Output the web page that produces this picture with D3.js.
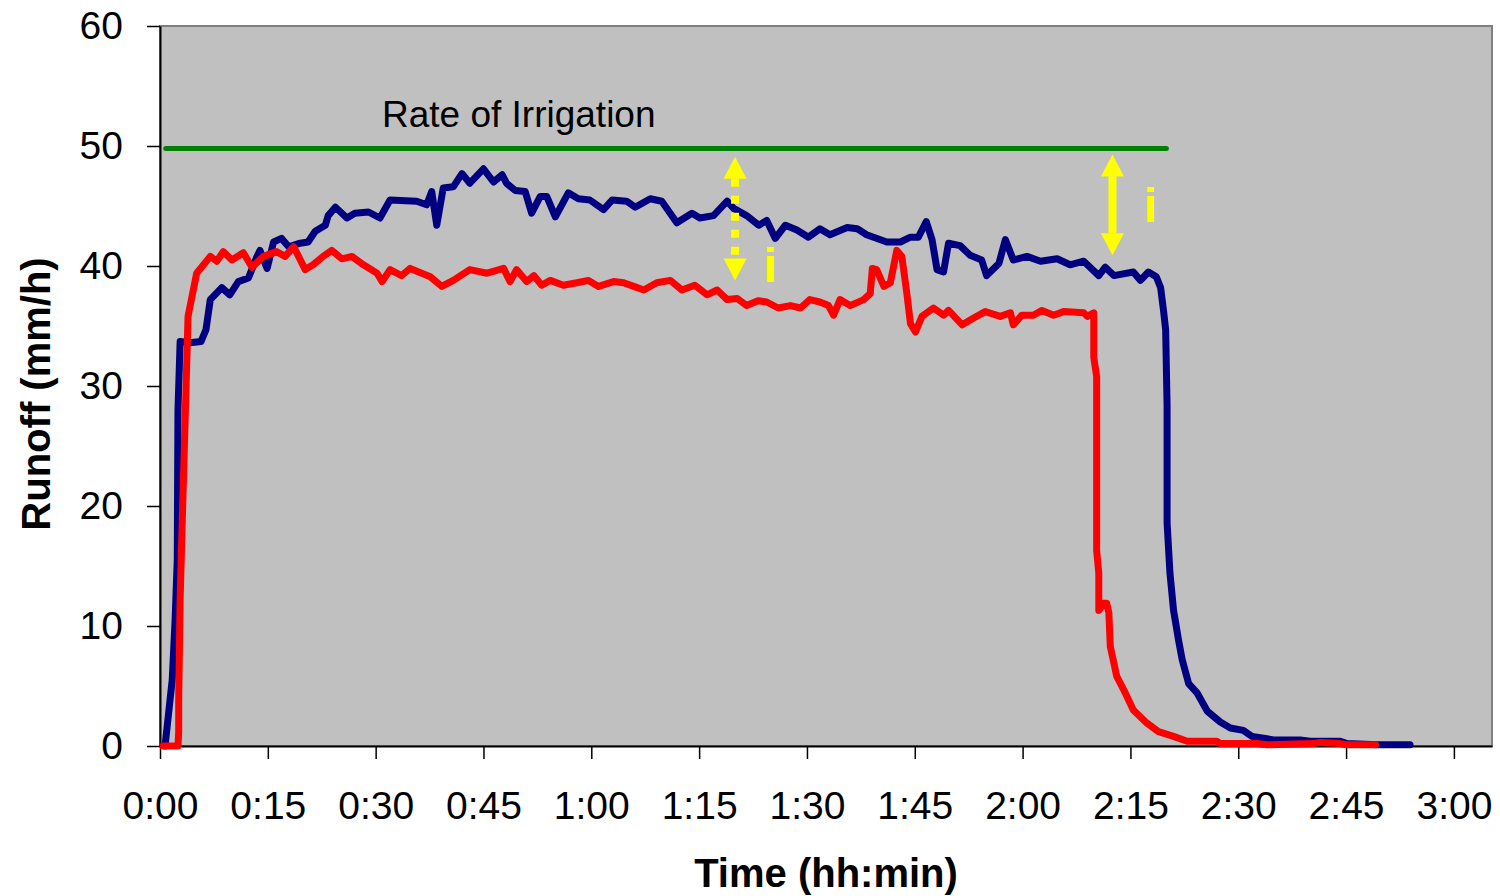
<!DOCTYPE html>
<html>
<head>
<meta charset="utf-8">
<title>Runoff</title>
<script src="https://cdn.jsdelivr.net/npm/d3@7"></script>
<style>
  body { margin: 0; background: #fff; }
  svg { display: block; font-family: "Liberation Sans", Arial, sans-serif; }
</style>
</head>
<body>
<div id="chart"></div>
<script>
// time in minutes, runoff in mm/h
var blueTime = [0.7, 1.1, 1.7, 2.1, 2.4, 2.5, 2.8, 4.2, 5.7, 6.4, 7.0, 8.6, 9.7, 10.9, 12.3, 13.5, 13.9, 14.9, 15.8, 16.9,
  17.9, 19.5, 20.6, 21.6, 23.0, 23.4, 24.4, 25.3, 26.0, 27.1, 29.0, 30.6, 32.0, 35.7, 37.1, 37.8, 38.5, 39.4, 40.8, 42.0,
  43.1, 45.0, 46.4, 47.6, 48.2, 49.4, 50.8, 51.7, 52.9, 53.8, 55.0, 56.8, 58.2, 59.8, 61.7, 62.9, 64.9, 66.1, 68.2, 69.8,
  71.9, 74.0, 75.1, 77.0, 78.9, 79.8, 81.6, 83.3, 84.4, 85.6, 87.0, 88.6, 90.2, 91.8, 93.2, 95.6, 97.0, 98.3, 101.1, 103.0,
  104.4, 105.5, 106.6, 107.4, 108.1, 109.0, 109.7, 111.3, 112.7, 114.3, 115.0, 116.7, 117.6, 118.7, 120.6, 122.5, 124.8, 126.6, 128.5, 130.6,
  131.5, 132.7, 135.4, 136.4, 137.5, 138.6, 139.2, 139.6, 139.9, 140.1, 140.1, 140.5, 141.0, 141.7, 142.2, 143.1, 144.3, 145.7, 147.5, 148.9,
  150.7, 151.9, 154.0, 154.9, 158.6, 160.0, 164.2, 165.1, 169.3, 173.9];
var blueRunoff = [0, 2.2, 5.5, 10.5, 15.5, 28.0, 33.7, 33.6, 33.7, 34.7, 37.2, 38.2, 37.6, 38.7, 39.0, 40.8, 41.3, 39.8, 42.0, 42.3,
  41.6, 41.9, 42.0, 42.9, 43.4, 44.2, 44.9, 44.4, 44.0, 44.4, 44.5, 44.0, 45.5, 45.4, 45.1, 46.2, 43.4, 46.5, 46.6, 47.7,
  46.9, 48.1, 47.0, 47.6, 46.9, 46.3, 46.2, 44.4, 45.8, 45.8, 44.1, 46.1, 45.6, 45.5, 44.7, 45.5, 45.4, 44.9, 45.6, 45.4,
  43.6, 44.4, 44.0, 44.2, 45.4, 44.8, 44.2, 43.4, 43.8, 42.3, 43.4, 43.0, 42.4, 43.1, 42.6, 43.2, 43.1, 42.6, 42.0, 42.0,
  42.4, 42.4, 43.7, 42.2, 39.7, 39.5, 41.9, 41.7, 40.9, 40.5, 39.2, 40.2, 42.2, 40.5, 40.8, 40.4, 40.6, 40.1, 40.4, 39.2,
  39.9, 39.2, 39.5, 38.8, 39.5, 39.1, 38.2, 36.3, 34.7, 28.3, 18.6, 14.4, 11.3, 8.8, 7.2, 5.2, 4.4, 2.9, 2.0, 1.5,
  1.3, 0.8, 0.6, 0.5, 0.5, 0.4, 0.4, 0.2, 0.1, 0.1];

var redTime = [0.4, 2.5, 2.6, 2.6, 2.8, 3.1, 3.5, 3.9, 5.1, 7.0, 7.9, 8.8, 10.0, 11.6, 12.8, 14.4, 16.2, 17.4, 18.6, 20.2,
  21.3, 22.7, 23.9, 25.3, 26.7, 28.3, 30.2, 30.9, 32.0, 33.6, 34.8, 37.6, 39.2, 40.8, 43.1, 45.5, 47.8, 48.7, 49.6, 51.0,
  52.0, 53.1, 54.3, 56.1, 58.0, 59.6, 61.0, 63.1, 64.5, 65.9, 67.3, 69.1, 71.0, 72.6, 74.4, 76.1, 77.5, 78.9, 80.3, 81.6,
  83.2, 84.4, 86.0, 87.7, 89.1, 90.4, 91.8, 93.0, 93.7, 94.6, 96.0, 97.9, 98.8, 99.1, 99.7, 100.7, 101.6, 102.5, 103.2, 103.9,
  104.4, 105.1, 106.0, 107.6, 109.0, 109.7, 111.6, 113.0, 114.8, 116.9, 118.3, 118.7, 119.9, 121.5, 122.7, 124.3, 125.7, 128.5, 129.0, 129.9,
  129.9, 130.3, 130.3, 130.6, 130.6, 131.3, 131.7, 132.0, 132.2, 133.1, 134.3, 135.4, 137.3, 138.9, 141.0, 142.9, 147.0, 147.5, 152.6, 154.0,
  160.5, 161.4, 164.2, 165.1, 169.1];
var redRunoff = [0, 0, 1.2, 3.8, 12.2, 18.8, 27.2, 35.8, 39.4, 40.8, 40.4, 41.2, 40.5, 41.1, 39.9, 40.8, 41.2, 40.8, 41.6, 39.7,
  40.1, 40.8, 41.3, 40.6, 40.8, 40.1, 39.4, 38.7, 39.7, 39.2, 39.8, 39.1, 38.3, 38.8, 39.7, 39.4, 39.8, 38.7, 39.7, 38.7,
  39.2, 38.4, 38.8, 38.4, 38.6, 38.8, 38.3, 38.7, 38.6, 38.3, 38.0, 38.6, 38.8, 38.0, 38.4, 37.6, 38.0, 37.2, 37.3, 36.7,
  37.1, 37.0, 36.5, 36.7, 36.5, 37.2, 37.0, 36.7, 35.9, 37.2, 36.7, 37.2, 37.7, 39.8, 39.7, 38.3, 38.6, 41.3, 40.8, 37.7,
  35.2, 34.5, 35.8, 36.5, 35.9, 36.3, 35.1, 35.6, 36.2, 35.8, 36.1, 35.1, 35.9, 35.9, 36.3, 35.9, 36.2, 36.1, 35.8, 36.1,
  32.4, 30.8, 16.3, 14.4, 11.3, 11.9, 11.9, 11.1, 8.3, 5.8, 4.4, 3.0, 1.9, 1.2, 0.8, 0.4, 0.4, 0.2, 0.2, 0.1,
  0.2, 0.3, 0.2, 0.1, 0.1];

// rate of irrigation line
var irrigationTime = [0.8, 140.0];
var irrigationRate = [49.8, 49.8];

// yellow arrows: [time, top value, bottom value]
var arrowDashed = [80.0, 49.1, 38.8];
var arrowSolid = [132.5, 49.3, 40.9];

var xTicks = [0, 15, 30, 45, 60, 75, 90, 105, 120, 135, 150, 165, 180];
var yTicks = [0, 10, 20, 30, 40, 50, 60];

var width = 1500, height = 896;
var plotL = 160, plotR = 1492, plotT = 26, plotB = 746;

var svg = d3.select('#chart').append('svg')
  .attr('width', width)
  .attr('height', height);

var x = d3.scaleLinear().domain([0, 185.3]).range([plotL, plotR]);
var y = d3.scaleLinear().domain([0, 60]).range([plotB, plotT]);

// plot area
svg.append('rect')
  .attr('x', plotL).attr('y', plotT)
  .attr('width', plotR - plotL).attr('height', plotB - plotT)
  .attr('fill', '#c0c0c0')
  .attr('stroke', '#808080')
  .attr('stroke-width', 2);

function fmt(m) {
  var h = Math.floor(m / 60), mm = m % 60;
  return h + ':' + (mm < 10 ? '0' : '') + mm;
}

var xAxis = svg.append('g')
  .attr('transform', 'translate(0,' + plotB + ')')
  .call(d3.axisBottom(x).tickValues(xTicks).tickFormat(fmt).tickSize(13).tickSizeOuter(0).tickPadding(32));

var yAxis = svg.append('g')
  .attr('transform', 'translate(' + plotL + ',0)')
  .call(d3.axisLeft(y).tickValues(yTicks).tickSize(13).tickSizeOuter(0).tickPadding(24));

[xAxis, yAxis].forEach(function(g) {
  g.select('.domain').attr('stroke', '#000').attr('stroke-width', 2);
  g.selectAll('.tick line').attr('stroke', '#000').attr('stroke-width', 1.5);
  g.selectAll('.tick text')
    .attr('fill', '#000')
    .style('font-size', '39px')
    .style('font-family', '"Liberation Sans", Arial, sans-serif');
});

var line = d3.line()
  .x(function(d) { return x(d[0]); })
  .y(function(d) { return y(d[1]); });

function pairs(t, v) { return t.map(function(d, i) { return [d, v[i]]; }); }

svg.append('path')
  .datum(pairs(irrigationTime, irrigationRate))
  .attr('d', line)
  .attr('fill', 'none')
  .attr('stroke', '#008000')
  .attr('stroke-width', 5)
  .attr('stroke-linecap', 'round');

svg.append('path')
  .datum(pairs(blueTime, blueRunoff))
  .attr('d', line)
  .attr('fill', 'none')
  .attr('stroke', '#000080')
  .attr('stroke-width', 7)
  .attr('stroke-linejoin', 'round')
  .attr('stroke-linecap', 'round');

svg.append('path')
  .datum(pairs(redTime, redRunoff))
  .attr('d', line)
  .attr('fill', 'none')
  .attr('stroke', '#ff0000')
  .attr('stroke-width', 7)
  .attr('stroke-linejoin', 'round')
  .attr('stroke-linecap', 'round');

// double arrows
function arrow(a, dashed) {
  var cx = x(a[0]), y1 = y(a[1]), y2 = y(a[2]);
  var hh = 22, hw = 11.5;
  var g = svg.append('g').attr('fill', '#ffff00');
  g.append('path').attr('d', 'M' + cx + ',' + y1 + 'L' + (cx + hw) + ',' + (y1 + hh) + 'L' + (cx - hw) + ',' + (y1 + hh) + 'Z');
  g.append('path').attr('d', 'M' + cx + ',' + y2 + 'L' + (cx + hw) + ',' + (y2 - hh) + 'L' + (cx - hw) + ',' + (y2 - hh) + 'Z');
  g.append('line')
    .attr('x1', cx).attr('x2', cx)
    .attr('y1', y1 + hh).attr('y2', y2 - hh)
    .attr('stroke', '#ffff00')
    .attr('stroke-width', 8)
    .attr('stroke-dasharray', dashed ? '8,9' : null);
}
arrow(arrowDashed, true);
arrow(arrowSolid, false);

svg.append('text')
  .attr('x', x(arrowDashed[0]) + 35).attr('y', y(arrowDashed[2]) + 2)
  .attr('text-anchor', 'middle')
  .attr('fill', '#ffff00')
  .style('font-size', '48px').style('font-weight', 'bold')
  .text('i');

svg.append('text')
  .attr('x', x(arrowSolid[0]) + 38).attr('y', y(arrowSolid[1]) + 68)
  .attr('text-anchor', 'middle')
  .attr('fill', '#ffff00')
  .style('font-size', '48px').style('font-weight', 'bold')
  .text('i');

svg.append('text')
  .attr('x', 382).attr('y', 127)
  .style('font-size', '37px')
  .attr('fill', '#000')
  .text('Rate of Irrigation');

svg.append('text')
  .attr('transform', 'translate(50,' + ((plotT + plotB) / 2 + 8) + ') rotate(-90)')
  .attr('text-anchor', 'middle')
  .style('font-size', '40px').style('font-weight', 'bold')
  .text('Runoff (mm/h)');

svg.append('text')
  .attr('x', (plotL + plotR) / 2).attr('y', 887)
  .attr('text-anchor', 'middle')
  .style('font-size', '40px').style('font-weight', 'bold')
  .text('Time (hh:min)');
</script>
</body>
</html>
